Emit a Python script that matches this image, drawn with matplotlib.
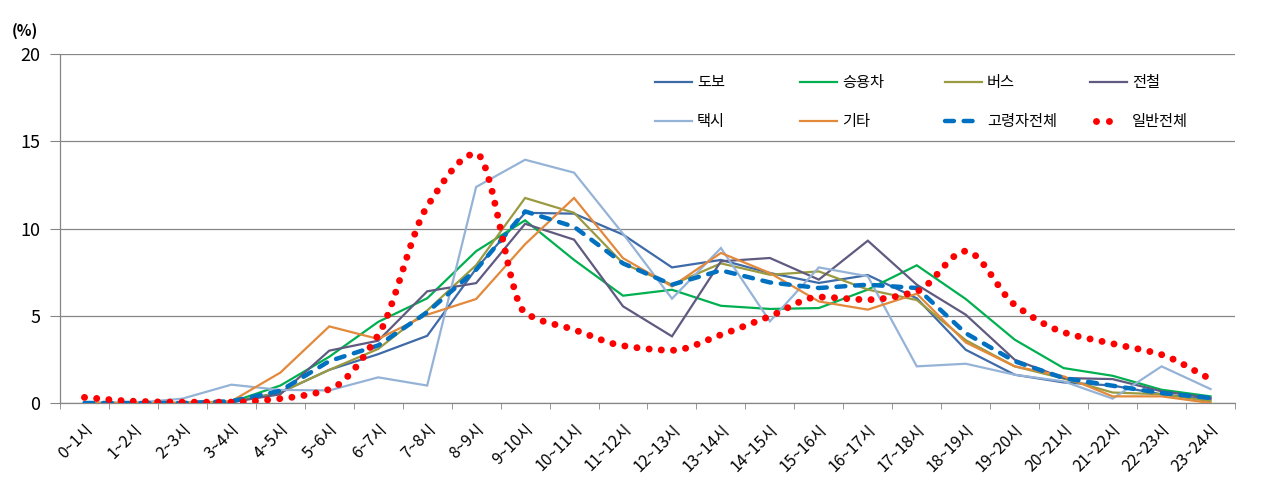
import matplotlib
matplotlib.use("Agg")
import matplotlib.pyplot as plt
from matplotlib.path import Path
from matplotlib.patches import PathPatch
from matplotlib.lines import Line2D

plt.rcParams["font.family"] = ["Noto Sans CJK KR", "DejaVu Sans"]

hours = [f"{h}~{h + 1}시" for h in range(24)]

walk = [0, 0, 0, 0.05, 0.6, 1.9, 2.8, 3.85, 7.7, 10.9, 10.85, 9.65,
        7.77, 8.2, 7.45, 6.88, 7.33, 6.0, 3.05, 1.62, 1.18, 1.0, 0.5, 0.2]
car = [0, 0, 0, 0.05, 1.0, 2.65, 4.65, 6.0, 8.7, 10.47, 8.2, 6.15,
       6.49, 5.57, 5.39, 5.44, 6.5, 7.89, 5.96, 3.63, 2.0, 1.56, 0.76, 0.38]
bus = [0, 0, 0, 0.05, 0.6, 1.9, 3.1, 5.3, 7.9, 11.75, 10.9, 8.0,
       6.78, 8.0, 7.35, 7.54, 6.5, 5.9, 3.6, 2.1, 1.4, 0.6, 0.5, 0.1]
subway = [0, 0, 0, 0.05, 0.5, 3.0, 3.57, 6.4, 6.87, 10.27, 9.36, 5.54,
          3.82, 8.12, 8.31, 7.07, 9.3, 6.78, 5.06, 2.48, 1.43, 1.37, 0.67, 0.29]
taxi = [0, 0, 0.25, 1.05, 0.75, 0.72, 1.47, 1.0, 12.38, 13.94, 13.2, 9.7,
        5.98, 8.88, 4.68, 7.77, 7.26, 2.1, 2.25, 1.62, 1.24, 0.25, 2.1, 0.8]
other = [0, 0, 0, 0.1, 1.74, 4.39, 3.67, 5.06, 5.96, 9.1, 11.75, 8.3,
         6.68, 8.6, 7.45, 5.82, 5.35, 6.26, 3.47, 2.1, 1.53, 0.38, 0.38, 0.0]
elderly = [0, 0, 0, 0.1, 0.7, 2.4, 3.3, 5.2, 7.64, 10.98, 10.1, 8.0,
           6.78, 7.6, 6.91, 6.59, 6.78, 6.59, 4.0, 2.39, 1.43, 0.99, 0.57, 0.29]
general = [0.32, 0.1, 0.05, 0.05, 0.25, 0.78, 3.9, 11.27, 14.29, 5.16, 4.2, 3.28,
           3.02, 3.91, 4.97, 6.07, 5.92, 6.4, 8.7, 5.63, 4.05, 3.4, 2.77, 1.37]

thin_series = [
    ("도보", walk, "#3f6aa8"),
    ("승용차", car, "#00b050"),
    ("버스", bus, "#9a9a40"),
    ("전철", subway, "#5f5a80"),
    ("택시", taxi, "#95b3d7"),
    ("기타", other, "#e2893b"),
]

GRID = "#868686"

fig = plt.figure(figsize=(12.67, 4.96), dpi=100)
ax = fig.add_axes([60 / 1267, 93 / 496, 1175 / 1267, 349 / 496])

x = list(range(24))
handles = {}
for name, vals, color in thin_series:
    (ln,) = ax.plot(x, vals, color=color, lw=1.6, solid_joinstyle="miter", zorder=3)
    handles[name] = ln

(eld,) = ax.plot(x, elderly, color="#0070c0", lw=3.2, linestyle=(0, (2.0, 2.2)),
                 dash_capstyle="round", zorder=4)
handles["고령자전체"] = eld


def smooth_path(xs, ys):
    # cubic Bezier through the points with monotone (no overshoot) tangents
    n = len(xs)
    d = [(ys[i + 1] - ys[i]) / (xs[i + 1] - xs[i]) for i in range(n - 1)]
    m = [d[0]] + [0.0] * (n - 2) + [d[-1]]
    for i in range(1, n - 1):
        if d[i - 1] * d[i] > 0:
            m[i] = 2 / (1 / d[i - 1] + 1 / d[i])
    verts = [(xs[0], ys[0])]
    codes = [Path.MOVETO]
    for i in range(n - 1):
        h = xs[i + 1] - xs[i]
        verts += [(xs[i] + h / 3, ys[i] + m[i] * h / 3),
                  (xs[i + 1] - h / 3, ys[i + 1] - m[i + 1] * h / 3),
                  (xs[i + 1], ys[i + 1])]
        codes += [Path.CURVE4] * 3
    return Path(verts, codes)


dotted = (0, (0.01, 1.75))
patch = PathPatch(smooth_path(x, general), fill=False, edgecolor="#ff0000", lw=5,
                  linestyle=dotted, capstyle="round", zorder=5)
ax.add_patch(patch)
# legend sample: three dots, then room before the label
handles["일반전체"] = Line2D([], [], color="#ff0000", lw=5,
                          linestyle=(1.0, (0.01, 1.85, 0.01, 1.85, 0.01, 12)),
                          dash_capstyle="round")

ax.set_xlim(-0.5, 23.5)
ax.set_ylim(0, 20)
ax.set_yticks([0, 5, 10, 15, 20])
ax.yaxis.grid(True, color=GRID, lw=0.9)
ax.set_axisbelow(True)
for s in ["top", "right"]:
    ax.spines[s].set_visible(False)
for s in ["left", "bottom"]:
    ax.spines[s].set_color(GRID)
    ax.spines[s].set_linewidth(0.9)
ax.tick_params(axis="y", length=7, color=GRID, labelsize=13, pad=7)

ax.set_xticks(x)
ax.set_xticklabels(hours, rotation=45, ha="right", va="top", rotation_mode="anchor",
                   fontsize=11.5)
ax.set_xticks([i - 0.5 for i in range(25)], minor=True)
ax.tick_params(axis="x", which="major", length=0, pad=13)
ax.tick_params(axis="x", which="minor", length=4, color=GRID)

fig.text(12 / 1267, 1 - 31 / 496, "(%)", fontsize=11, fontweight="bold",
         ha="left", va="center")

columns = [("도보", "택시"), ("승용차", "기타"), ("버스", "고령자전체"), ("전철", "일반전체")]
col_x = [655, 800, 945, 1090]
for cx, names in zip(col_x, columns):
    fig.legend([handles[k] for k in names], list(names), loc="upper left",
               bbox_to_anchor=(cx / 1267, 1 - 74 / 496), frameon=False,
               fontsize=11, handlelength=2.45, handletextpad=0.3,
               labelspacing=1.45, borderaxespad=0, borderpad=0)

fig.savefig("out.png", dpi=100)
